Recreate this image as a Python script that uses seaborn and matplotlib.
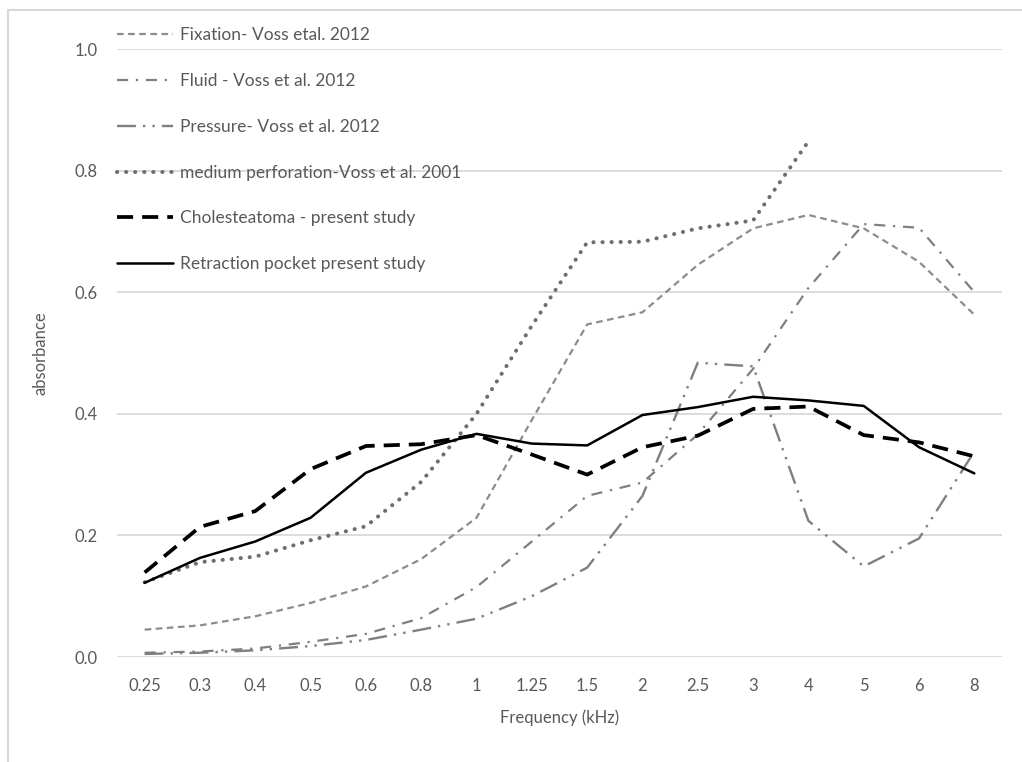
import numpy as np
import pandas as pd
import matplotlib
matplotlib.use("Agg")
import matplotlib.pyplot as plt
from matplotlib.lines import Line2D
import seaborn as sns

# data
freq_labels = ["0.25", "0.3", "0.4", "0.5", "0.6", "0.8", "1", "1.25",
               "1.5", "2", "2.5", "3", "4", "5", "6", "8"]

fixation = [0.045, 0.052, 0.067, 0.089, 0.116, 0.161, 0.229, 0.390,
            0.547, 0.567, 0.645, 0.705, 0.727, 0.705, 0.650, 0.563]
fluid = [0.007, 0.009, 0.014, 0.025, 0.038, 0.064, 0.115, 0.190,
         0.265, 0.287, 0.366, 0.474, 0.607, 0.712, 0.706, 0.600]
pressure = [0.005, 0.007, 0.011, 0.018, 0.028, 0.045, 0.063, 0.100,
            0.147, 0.265, 0.484, 0.478, 0.224, 0.149, 0.195, 0.338]
perforation = [0.123, 0.156, 0.165, 0.192, 0.215, 0.288, 0.400, 0.545,
               0.682, 0.683, 0.705, 0.718, 0.848, np.nan, np.nan, np.nan]
cholesteatoma = [0.139, 0.214, 0.240, 0.309, 0.347, 0.350, 0.365, 0.333,
                 0.300, 0.345, 0.364, 0.408, 0.412, 0.365, 0.353, 0.330]
retraction = [0.122, 0.163, 0.190, 0.229, 0.303, 0.341, 0.367, 0.351,
              0.348, 0.398, 0.411, 0.428, 0.422, 0.413, 0.345, 0.302]

series_names = ["Fixation- Voss etal. 2012",
                "Fluid - Voss et al. 2012",
                "Pressure- Voss et al. 2012",
                "medium perforation-Voss et al. 2001",
                "Cholesteatoma - present study",
                "Retraction pocket present study"]
series_values = [fixation, fluid, pressure, perforation, cholesteatoma, retraction]

# line looks: color, width, dash pattern
styles = [
    dict(color="#8c8c8c", lw=1.6, ls=(0, (3, 2))),
    dict(color="#7f7f7f", lw=1.6, ls=(0, (5, 3.5, 1, 3.5))),
    dict(color="#7f7f7f", lw=1.7, ls=(0, (8, 3, 1, 3, 1, 3))),
    dict(color="#6e6e6e", lw=2.9, ls=(0, (0.05, 2.2))),
    dict(color="black", lw=2.7, ls=(0, (4.3, 2.4))),
    dict(color="black", lw=1.8, ls="-"),
]

txt = "#595959"
sns.set_theme(style="white")
plt.rcParams["font.family"] = ["Lato", "DejaVu Sans"]

fig = plt.figure(figsize=(10.22, 7.62), dpi=100)
ax = fig.add_axes([117 / 1022, 1 - 657 / 762, 885 / 1022, 608 / 762])

pos = np.arange(len(freq_labels))
for name, vals, st in zip(series_names, series_values, styles):
    df = pd.DataFrame({"pos": pos, "absorbance": vals}).dropna()
    sns.lineplot(data=df, x="pos", y="absorbance", ax=ax, label=name,
                 color=st["color"], linewidth=st["lw"], linestyle=st["ls"],
                 dash_capstyle="round" if st["lw"] > 2.8 else "butt",
                 legend=False)

ax.set_xlim(-0.5, len(freq_labels) - 0.5)
ax.set_ylim(0, 1.0)
ax.set_yticks(np.arange(0, 1.01, 0.2))
ax.set_yticklabels([f"{v:.1f}" for v in np.arange(0, 1.01, 0.2)])
ax.set_xticks(pos)
ax.set_xticklabels(freq_labels)
ax.yaxis.grid(True, color="#d9d9d9", linewidth=1.3)
ax.set_axisbelow(True)
for sp in ax.spines.values():
    sp.set_visible(False)
ax.tick_params(axis="x", length=0, pad=15, labelsize=12, labelcolor=txt)
ax.tick_params(axis="y", length=0, pad=14, labelsize=12, labelcolor=txt)
ax.set_xlabel("Frequency (kHz)", fontsize=12, color=txt, labelpad=11)
ax.set_ylabel("absorbance", fontsize=12, color=txt, labelpad=19)

handles = [Line2D([], [], color=st["color"], linewidth=st["lw"], linestyle=st["ls"],
                  dash_capstyle="round" if st["lw"] > 2.8 else "butt")
           for st in styles]
leg = fig.legend(handles, series_names, loc="upper left",
                 bbox_to_anchor=(117 / 1022, 1 - 27 / 762), frameon=False,
                 fontsize=12.5, handlelength=3.2, handletextpad=0.45,
                 labelspacing=1.72, borderpad=0, borderaxespad=0)
for t in leg.get_texts():
    t.set_color(txt)

# chart area border (top and left visible)
fig.add_artist(Line2D([8 / 1022, 1.0], [1 - 10 / 762, 1 - 10 / 762],
                      color="#d9d9d9", linewidth=1.5))
fig.add_artist(Line2D([8 / 1022, 8 / 1022], [0, 1 - 10 / 762],
                      color="#d9d9d9", linewidth=1.5))

fig.savefig("out.png", dpi=100)
